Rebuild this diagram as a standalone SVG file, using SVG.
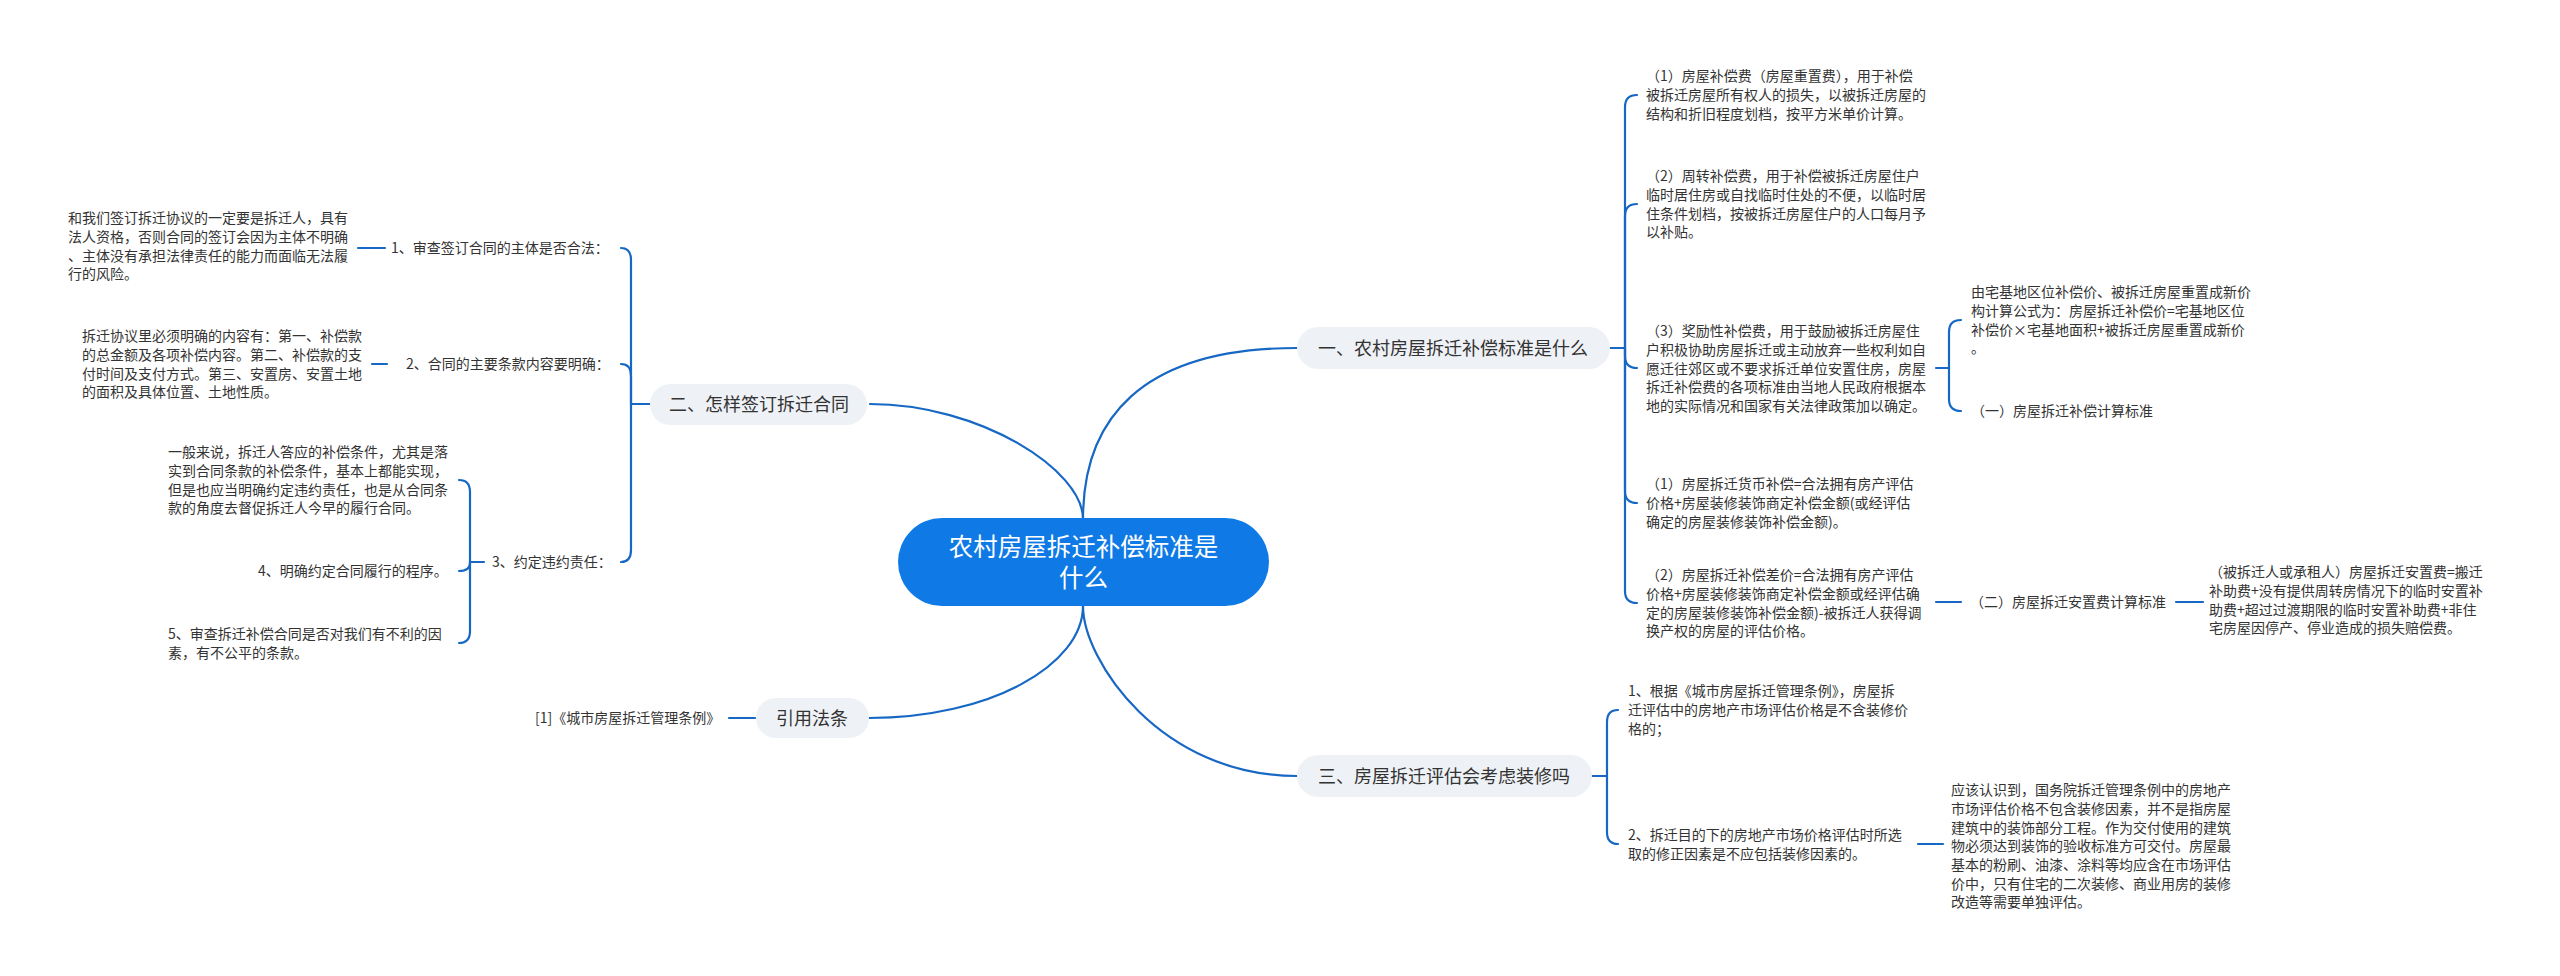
<svg xmlns="http://www.w3.org/2000/svg" width="2560" height="976" viewBox="0 0 2560 976">
<style>
text{font-family:"Noto Sans CJK SC","Noto Sans",sans-serif;fill:#333;font-size:14px}
.b{font-size:18px}
.r{font-size:24.5px;fill:#fff}
.pill{fill:#eef1f6}
.c path{fill:none;stroke:#1668c4;stroke-width:2.2;stroke-linecap:round}
</style>
<rect width="2560" height="976" fill="#fff"/>
<g class="c" id="connectors">
<path d="M1083,519 C1083,420 1140,348 1297,348"/>
<path d="M1083,606 C1083,660 1160,776 1297,776"/>
<path d="M1083,519 C1083,470 980,404 870,404"/>
<path d="M1083,606 C1083,665 990,718 869,718"/>
<path d="M1610,348 L1625,348"/>
<path d="M1625,348 L1625,107 Q1625,95 1637,95"/>
<path d="M1625,348 L1625,216 Q1625,204 1637,204"/>
<path d="M1625,348 L1625,356 Q1625,368 1637,368"/>
<path d="M1625,348 L1625,491 Q1625,503 1637,503"/>
<path d="M1625,348 L1625,591 Q1625,603 1637,603"/>
<path d="M1936,368 L1949,368"/>
<path d="M1949,368 L1949,332 Q1949,320 1961,320"/>
<path d="M1949,368 L1949,399 Q1949,411 1961,411"/>
<path d="M1936,602 L1961,602"/>
<path d="M2176,602 L2203,602"/>
<path d="M1592,776 L1607,776"/>
<path d="M1607,776 L1607,722 Q1607,710 1618,710"/>
<path d="M1607,776 L1607,832 Q1607,844 1618,844"/>
<path d="M1918,844 L1943,844"/>
<path d="M650,404 L631,404"/>
<path d="M631,404 L631,260 Q631,248 621,248"/>
<path d="M631,404 L631,376 Q631,364 621,364"/>
<path d="M631,404 L631,550 Q631,562 621,562"/>
<path d="M385,248 L358,248"/>
<path d="M387,364 L372,364"/>
<path d="M484,562 L470,562"/>
<path d="M470,562 L470,492 Q470,480 459,480"/>
<path d="M470,562 L470,563 Q470,571 459,571"/>
<path d="M470,562 L470,631 Q470,643 459,643"/>
<path d="M755,718 L729,718"/>
</g>
<g id="root">
<rect x="898" y="518" width="371" height="88" rx="44" fill="#0f7ae5"/>
<text class="r" text-anchor="middle" x="1083.5" y="556">农村房屋拆迁补偿标准是</text>
<text class="r" text-anchor="middle" x="1083.5" y="587">什么</text>
</g>
<g id="b1">
<rect class="pill" x="1297" y="327" width="313" height="42" rx="21"/>
<text class="b" x="1318" y="354.5">一、农村房屋拆迁补偿标准是什么</text>
</g>
<g id="b1c1">
<text x="1646" y="81">（1）房屋补偿费（房屋重置费），用于补偿</text>
<text x="1646" y="100">被拆迁房屋所有权人的损失，以被拆迁房屋的</text>
<text x="1646" y="118.5">结构和折旧程度划档，按平方米单价计算。</text>
</g>
<g id="b1c2">
<text x="1646" y="181">（2）周转补偿费，用于补偿被拆迁房屋住户</text>
<text x="1646" y="200">临时居住房或自找临时住处的不便，以临时居</text>
<text x="1646" y="218.5">住条件划档，按被拆迁房屋住户的人口每月予</text>
<text x="1646" y="237">以补贴。</text>
</g>
<g id="b1c3">
<text x="1646" y="336">（3）奖励性补偿费，用于鼓励被拆迁房屋住</text>
<text x="1646" y="355">户积极协助房屋拆迁或主动放弃一些权利如自</text>
<text x="1646" y="373.5">愿迁往郊区或不要求拆迁单位安置住房，房屋</text>
<text x="1646" y="392">拆迁补偿费的各项标准由当地人民政府根据本</text>
<text x="1646" y="411">地的实际情况和国家有关法律政策加以确定。</text>
</g>
<g id="b1c3a">
<text x="1971" y="297">由宅基地区位补偿价、被拆迁房屋重置成新价</text>
<text x="1971" y="316">构计算公式为：房屋拆迁补偿价=宅基地区位</text>
<text x="1971" y="334.5">补偿价×宅基地面积+被拆迁房屋重置成新价</text>
<text x="1971" y="353">。</text>
</g>
<g id="b1c3b">
<text x="1971" y="416">（一）房屋拆迁补偿计算标准</text>
</g>
<g id="b1c4">
<text x="1646" y="489">（1）房屋拆迁货币补偿=合法拥有房产评估</text>
<text x="1646" y="508">价格+房屋装修装饰商定补偿金额(或经评估</text>
<text x="1646" y="526.5">确定的房屋装修装饰补偿金额)。</text>
</g>
<g id="b1c5">
<text x="1646" y="580">（2）房屋拆迁补偿差价=合法拥有房产评估</text>
<text x="1646" y="599">价格+房屋装修装饰商定补偿金额或经评估确</text>
<text x="1646" y="617.5">定的房屋装修装饰补偿金额)-被拆迁人获得调</text>
<text x="1646" y="636">换产权的房屋的评估价格。</text>
</g>
<g id="b1c5a">
<text x="1970" y="607">（二）房屋拆迁安置费计算标准</text>
</g>
<g id="b1c5a1">
<text x="2209" y="577">（被拆迁人或承租人）房屋拆迁安置费=搬迁</text>
<text x="2209" y="596">补助费+没有提供周转房情况下的临时安置补</text>
<text x="2209" y="614.5">助费+超过过渡期限的临时安置补助费+非住</text>
<text x="2209" y="633">宅房屋因停产、停业造成的损失赔偿费。</text>
</g>
<g id="b3">
<rect class="pill" x="1297" y="755" width="295" height="42" rx="21"/>
<text class="b" x="1318" y="782.5">三、房屋拆迁评估会考虑装修吗</text>
</g>
<g id="b3c1">
<text x="1628" y="696">1、根据《城市房屋拆迁管理条例》，房屋拆</text>
<text x="1628" y="715">迁评估中的房地产市场评估价格是不含装修价</text>
<text x="1628" y="733.5">格的；</text>
</g>
<g id="b3c2">
<text x="1628" y="840">2、拆迁目的下的房地产市场价格评估时所选</text>
<text x="1628" y="859">取的修正因素是不应包括装修因素的。</text>
</g>
<g id="b3c2a">
<text x="1951" y="795">应该认识到，国务院拆迁管理条例中的房地产</text>
<text x="1951" y="814">市场评估价格不包含装修因素，并不是指房屋</text>
<text x="1951" y="832.5">建筑中的装饰部分工程。作为交付使用的建筑</text>
<text x="1951" y="851">物必须达到装饰的验收标准方可交付。房屋最</text>
<text x="1951" y="870">基本的粉刷、油漆、涂料等均应含在市场评估</text>
<text x="1951" y="888.5">价中，只有住宅的二次装修、商业用房的装修</text>
<text x="1951" y="907">改造等需要单独评估。</text>
</g>
<g id="b2">
<rect class="pill" x="650" y="384" width="217" height="41" rx="20.5"/>
<text class="b" x="669" y="410.5">二、怎样签订拆迁合同</text>
</g>
<g id="b2c1">
<text x="391" y="253">1、审查签订合同的主体是否合法：</text>
</g>
<g id="b2c1a">
<text x="68" y="223">和我们签订拆迁协议的一定要是拆迁人，具有</text>
<text x="68" y="242">法人资格，否则合同的签订会因为主体不明确</text>
<text x="68" y="260.5">、主体没有承担法律责任的能力而面临无法履</text>
<text x="68" y="279">行的风险。</text>
</g>
<g id="b2c2">
<text x="406" y="369">2、合同的主要条款内容要明确：</text>
</g>
<g id="b2c2a">
<text x="82" y="341">拆迁协议里必须明确的内容有：第一、补偿款</text>
<text x="82" y="360">的总金额及各项补偿内容。第二、补偿款的支</text>
<text x="82" y="378.5">付时间及支付方式。第三、安置房、安置土地</text>
<text x="82" y="397">的面积及具体位置、土地性质。</text>
</g>
<g id="b2c3">
<text x="492" y="567">3、约定违约责任：</text>
</g>
<g id="b2c3a">
<text x="168" y="457">一般来说，拆迁人答应的补偿条件，尤其是落</text>
<text x="168" y="476">实到合同条款的补偿条件，基本上都能实现，</text>
<text x="168" y="494.5">但是也应当明确约定违约责任，也是从合同条</text>
<text x="168" y="513">款的角度去督促拆迁人今早的履行合同。</text>
</g>
<g id="b2c3b">
<text x="258" y="576">4、明确约定合同履行的程序。</text>
</g>
<g id="b2c3c">
<text x="168" y="639">5、审查拆迁补偿合同是否对我们有不利的因</text>
<text x="168" y="658">素，有不公平的条款。</text>
</g>
<g id="b4">
<rect class="pill" x="756" y="698" width="113" height="40" rx="20"/>
<text class="b" x="776" y="724.5">引用法条</text>
</g>
<g id="b4c1">
<text x="535" y="723">[1]《城市房屋拆迁管理条例》</text>
</g>
</svg>
